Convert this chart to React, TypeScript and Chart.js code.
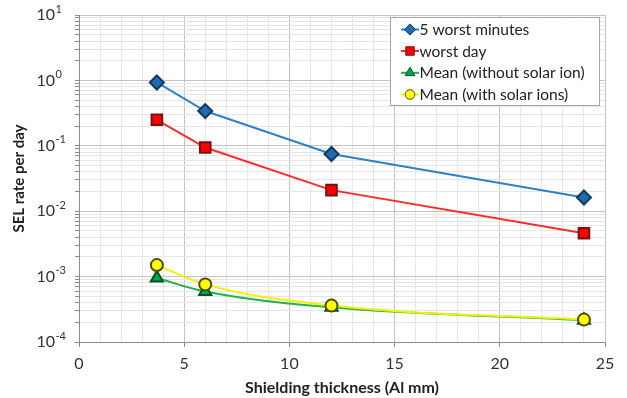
import React, { useEffect, useRef } from "react";
import { Chart, registerables } from "chart.js";
import { drawPoint } from "chart.js/helpers";

Chart.register(...registerables);

const thickness = [3.7, 6, 12, 24];
const worstMinutes = [0.93, 0.34, 0.075, 0.0162];
const worstDay = [0.25, 0.094, 0.021, 0.0046];
const meanNoSolar = [0.00095, 0.00059, 0.00034, 0.000215];
const meanSolar = [0.0015, 0.00076, 0.00036, 0.00022];
const seriesLabels = [
  "5 worst minutes",
  "worst day",
  "Mean (without solar ion)",
  "Mean (with solar ions)",
];
const xTickLabels = [0, 5, 10, 15, 20, 25];
const yDecades = [-4, -3, -2, -1, 0, 1];
const xTitle = "Shielding thickness (Al mm)";
const yTitle = "SEL rate per day";

const FONT = "Lato, 'Open Sans', sans-serif";

const toPoints = (ys: number[]) => thickness.map((x, i) => ({ x, y: ys[i] }));

const isDecade = (v: number) =>
  Math.abs(Math.log10(v) - Math.round(Math.log10(v))) < 1e-6;

const overlay = {
  id: "overlay",
  afterDraw(chart: any) {
    const ctx = chart.ctx as CanvasRenderingContext2D;
    const ca = chart.chartArea;
    const ys = chart.scales.y;
    ctx.save();
    ctx.fillStyle = "#333";
    // y tick labels with superscript exponents
    const baseRight = ca.left - 24;
    yDecades.forEach((e) => {
      const py = ys.getPixelForValue(Math.pow(10, e));
      const exp = String(e);
      ctx.font = `16px ${FONT}`;
      ctx.textAlign = "right";
      ctx.textBaseline = "middle";
      ctx.fillText("10", baseRight, py);
      ctx.font = `11px ${FONT}`;
      ctx.textAlign = "left";
      ctx.fillText(exp, baseRight + 0.5, py - 6);
    });
    // axis titles
    ctx.font = `bold 16px ${FONT}`;
    ctx.textAlign = "center";
    ctx.textBaseline = "middle";
    ctx.fillStyle = "#222";
    ctx.fillText(xTitle, (ca.left + ca.right) / 2, 388);
    ctx.save();
    ctx.translate(19, (ca.top + ca.bottom) / 2);
    ctx.rotate(-Math.PI / 2);
    ctx.font = `bold 15px ${FONT}`;
    ctx.fillText(yTitle, 0, 0);
    ctx.restore();

    // legend box
    const lx = 390, ly = 17, lw = 209, lh = 88;
    ctx.fillStyle = "#fff";
    ctx.fillRect(lx, ly, lw, lh);
    ctx.strokeStyle = "#a6a6a6";
    ctx.lineWidth = 1;
    ctx.strokeRect(lx + 0.5, ly + 0.5, lw, lh);
    const rows = [29.5, 51, 72.8, 94.5];
    chart.data.datasets.forEach((ds: any, i: number) => {
      const cy = rows[i];
      ctx.strokeStyle = ds.borderColor;
      ctx.lineWidth = 2;
      ctx.beginPath();
      ctx.moveTo(401, cy);
      ctx.lineTo(419, cy);
      ctx.stroke();
      ctx.fillStyle = ds.pointBackgroundColor;
      ctx.strokeStyle = ds.pointBorderColor;
      ctx.lineWidth = 1;
      drawPoint(
        ctx,
        { pointStyle: ds.pointStyle, radius: ds.pointRadius * 0.8, rotation: 0, borderWidth: 1 },
        410,
        cy
      );
      ctx.fillStyle = "#222";
      ctx.font = `15.5px ${FONT}`;
      ctx.textAlign = "left";
      ctx.textBaseline = "middle";
      ctx.fillText(ds.label, 419.5, cy + 0.5);
    });
    ctx.restore();
  },
};

export default function App() {
  const ref = useRef<HTMLCanvasElement | null>(null);
  useEffect(() => {
    document.body.style.margin = "0";
    if (!ref.current) return;
    const chart = new Chart(ref.current, {
      type: "line",
      data: {
        datasets: [
          {
            label: seriesLabels[0],
            data: toPoints(worstMinutes),
            borderColor: "#2f80c6",
            backgroundColor: "#1f6cb3",
            pointBackgroundColor: "#1f6cb3",
            pointBorderColor: "#12395e",
            pointStyle: "rectRot",
            pointRadius: 7,
            borderWidth: 2,
            order: 3,
          },
          {
            label: seriesLabels[1],
            data: toPoints(worstDay),
            borderColor: "#ff2a2a",
            backgroundColor: "#ff0000",
            pointBackgroundColor: "#ff0000",
            pointBorderColor: "#7a1010",
            pointStyle: "rect",
            pointRadius: 7.5,
            borderWidth: 2,
            order: 2,
          },
          {
            label: seriesLabels[2],
            data: toPoints(meanNoSolar),
            borderColor: "#22b14c",
            backgroundColor: "#00a651",
            pointBackgroundColor: "#00a651",
            pointBorderColor: "#0b4f26",
            pointStyle: "triangle",
            pointRadius: 7,
            borderWidth: 2,
            cubicInterpolationMode: "monotone",
            order: 1,
          },
          {
            label: seriesLabels[3],
            data: toPoints(meanSolar),
            borderColor: "#f2f200",
            backgroundColor: "#ffff00",
            pointBackgroundColor: "#ffff00",
            pointBorderColor: "#4d4d00",
            pointStyle: "circle",
            pointRadius: 6,
            borderWidth: 2,
            cubicInterpolationMode: "monotone",
            order: 0,
          },
        ],
      },
      options: {
        animation: false,
        responsive: false,
        maintainAspectRatio: false,
        layout: { padding: { top: 15, right: 22, left: 0, bottom: 0 } },
        plugins: { legend: { display: false }, tooltip: { enabled: false } },
        scales: {
          x: {
            type: "linear",
            min: xTickLabels[0],
            max: xTickLabels[xTickLabels.length - 1],
            afterBuildTicks: (scale: any) => {
              const t = [];
              for (let v = scale.min; v <= scale.max; v += 1) t.push({ value: v });
              scale.ticks = t;
            },
            afterFit: (scale: any) => {
              scale.height = 56;
            },
            border: { color: "#8c8c8c", width: 1 },
            grid: {
              color: (c: any) =>
                c.tick && xTickLabels.includes(c.tick.value) ? "#c4c4c4" : "#e6e6e6",
              tickColor: (c: any) =>
                c.tick && xTickLabels.includes(c.tick.value) ? "#8c8c8c" : "rgba(0,0,0,0)",
              tickLength: 5,
            },
            ticks: {
              autoSkip: false,
              maxRotation: 0,
              padding: 7,
              color: "#333",
              font: { family: FONT, size: 16 },
              callback: (v: any) => (xTickLabels.includes(Number(v)) ? String(v) : ""),
            },
          },
          y: {
            type: "logarithmic",
            min: Math.pow(10, yDecades[0]),
            max: Math.pow(10, yDecades[yDecades.length - 1]),
            afterBuildTicks: (scale: any) => {
              const t = [];
              for (let i = 0; i < yDecades.length - 1; i++) {
                for (let m = 1; m <= 9; m++) t.push({ value: m * Math.pow(10, yDecades[i]) });
              }
              t.push({ value: Math.pow(10, yDecades[yDecades.length - 1]) });
              scale.ticks = t;
            },
            afterFit: (scale: any) => {
              scale.width = 79;
            },
            border: { color: "#8c8c8c", width: 1 },
            grid: {
              color: (c: any) => (c.tick && isDecade(c.tick.value) ? "#c4c4c4" : "#e6e6e6"),
              tickColor: "#8c8c8c",
              tickLength: 4,
            },
            ticks: { display: false, autoSkip: false },
          },
        },
      },
      plugins: [overlay],
    } as any);
    return () => chart.destroy();
  }, []);
  return (
    <div style={{ position: "fixed", left: 0, top: 0, width: 627, height: 398, background: "#fff" }}>
      <canvas ref={ref} width={627} height={398} style={{ width: 627, height: 398 }} />
    </div>
  );
}
